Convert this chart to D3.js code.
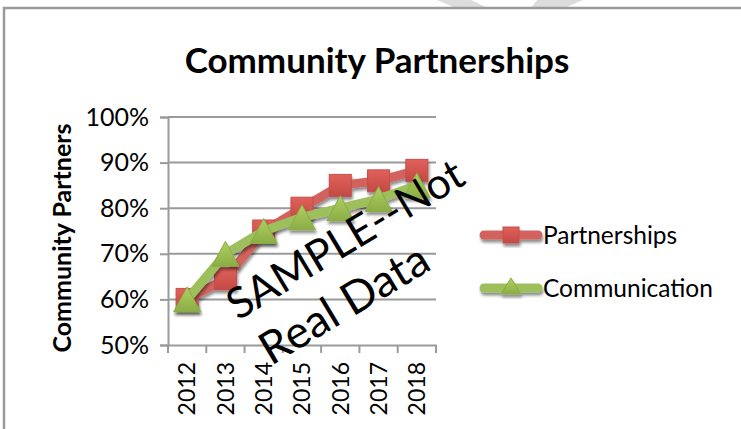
<!DOCTYPE html>
<html><head><meta charset="utf-8">
<script src="https://cdn.jsdelivr.net/npm/d3@7"></script>
<style>body{margin:0;background:#fff}svg{display:block}text{font-family:Lato,"Open Sans",sans-serif}</style>
</head><body>
<svg id="c" width="741" height="429"></svg>
<script>
const years = ["2012","2013","2014","2015","2016","2017","2018"];
const partnerships = [60, 64.5, 75, 80, 85, 86, 88.3];
const communication = [60, 70, 75, 78, 80, 82, 85];
const yTicks = [50, 60, 70, 80, 90, 100];
const seriesNames = ["Partnerships", "Communication"];

const svg = d3.select("#c");
const defs = svg.append("defs");
const sh = defs.append("filter").attr("id","sh").attr("x","-30%").attr("y","-30%").attr("width","160%").attr("height","160%");
sh.append("feGaussianBlur").attr("in","SourceAlpha").attr("stdDeviation",1.6);
sh.append("feOffset").attr("dx",1).attr("dy",2.5).attr("result","o");
sh.append("feComponentTransfer").append("feFuncA").attr("type","linear").attr("slope",0.45);
const m = sh.append("feMerge"); m.append("feMergeNode"); m.append("feMergeNode").attr("in","SourceGraphic");
const gr = defs.append("linearGradient").attr("id","gr").attr("x1",0).attr("y1",0).attr("x2",0).attr("y2",1);
gr.append("stop").attr("offset","0").attr("stop-color","#e2605a");
gr.append("stop").attr("offset","1").attr("stop-color","#c24a45");
const gg = defs.append("linearGradient").attr("id","gg").attr("x1",0).attr("y1",0).attr("x2",0).attr("y2",1);
gg.append("stop").attr("offset","0").attr("stop-color","#b0d060");
gg.append("stop").attr("offset","1").attr("stop-color","#8bad45");

// top watermark fragment
svg.append("polygon").attr("points","437,0 471,0 490,9 458,9").attr("fill","#dcdcdc");
svg.append("polygon").attr("points","537,0 583,0 562,9 530,9").attr("fill","#dcdcdc");

// frame
svg.append("path").attr("d","M4,429 V8 H741").attr("fill","none").attr("stroke","#9a9a9a").attr("stroke-width",2.5);

const x = d3.scaleBand().domain(years).range([168, 436]).padding(0);
const y = d3.scaleLinear().domain([50, 100]).range([345, 117]);

// gridlines
svg.append("g").selectAll("line").data(yTicks.slice(1)).join("line")
  .attr("x1",168).attr("x2",436).attr("y1",d=>y(d)).attr("y2",d=>y(d))
  .attr("stroke","#9a9a9a").attr("stroke-width",2);

// y axis
const ya = svg.append("g").attr("transform","translate(168,0)")
  .call(d3.axisLeft(y).tickValues(yTicks).tickSize(8).tickFormat(d=>d+"%"));
ya.select(".domain").attr("stroke","#9a9a9a").attr("stroke-width",2);
ya.selectAll(".tick line").attr("stroke","#9a9a9a").attr("stroke-width",2);
ya.selectAll(".tick text").attr("font-size",25).attr("x",-19).attr("fill","#000").attr("font-family","Lato");

// x axis
const xa = svg.append("g").attr("transform","translate(0,345)")
  .call(d3.axisBottom(x).tickSize(0).tickSizeOuter(0));
xa.select(".domain").attr("stroke","#9a9a9a").attr("stroke-width",2);
xa.selectAll(".tick text").attr("font-size",23).attr("fill","#000").attr("font-family","Lato")
  .attr("transform","rotate(-90)").attr("text-anchor","end").attr("x",-17).attr("y",0).attr("dy","0.36em");
const bounds = years.map(d=>x(d)).concat([x.range()[1]]);
svg.append("g").selectAll("line").data(bounds).join("line")
  .attr("x1",d=>d).attr("x2",d=>d).attr("y1",345).attr("y2",353)
  .attr("stroke","#9a9a9a").attr("stroke-width",2);

const cx = d => x(d) + x.bandwidth()/2;
const line = d3.line().x((d,i)=>cx(years[i])).y(d=>y(d));

// series
function square(g, px, py, s){ g.append("rect").attr("x",px-s/2).attr("y",py-s/2).attr("width",s).attr("height",s).attr("fill","url(#gr)").attr("stroke","#c0504d").attr("stroke-width",1); }
function tri(g, px, py, w, h){ g.append("path").attr("d",`M${px},${py-h/2} L${px+w/2},${py+h/2} L${px-w/2},${py+h/2} Z`).attr("fill","url(#gg)").attr("stroke","#8aaa48").attr("stroke-width",1); }

const gp = svg.append("g").attr("filter","url(#sh)");
gp.append("path").datum(partnerships).attr("d",line).attr("fill","none").attr("stroke","#d2625d").attr("stroke-width",9).attr("stroke-linejoin","round");
partnerships.forEach((v,i)=>square(gp, cx(years[i]), y(v), 22));

const gc = svg.append("g").attr("filter","url(#sh)");
gc.append("path").datum(communication).attr("d",line).attr("fill","none").attr("stroke","#9dc05c").attr("stroke-width",9).attr("stroke-linejoin","round");
communication.forEach((v,i)=>tri(gc, cx(years[i]), y(v), 27, 25));

// title
svg.append("text").attr("x",377).attr("y",73).attr("text-anchor","middle").attr("font-size",35).attr("font-weight","bold").text("Community Partnerships");
// y title
svg.append("text").attr("transform","translate(71,238) rotate(-90)").attr("text-anchor","middle").attr("font-size",25).attr("font-weight","bold").text("Community Partners");

// legend
const lg = svg.append("g");
const lgY = [235, 288];
const lgCol = ["#d2625d","#9dc05c"];
seriesNames.forEach((n,i)=>{
  const g = lg.append("g").attr("filter","url(#sh)");
  g.append("line").attr("x1",484).attr("x2",538).attr("y1",lgY[i]).attr("y2",lgY[i]).attr("stroke",lgCol[i]).attr("stroke-width",9).attr("stroke-linecap","round");
  if(i===0) square(g, 511, lgY[i], 16); else tri(g, 511, lgY[i]-2, 20, 16);
  lg.append("text").attr("x",543).attr("y",lgY[i]+9).attr("font-size",24.5).text(n);
});

// watermark
svg.append("text").attr("transform","translate(238,321) rotate(-31)").attr("font-size",43).text("SAMPLE--Not");
svg.append("text").attr("transform","translate(271,366) rotate(-31)").attr("font-size",45).text("Real Data");
</script>
</body></html>
